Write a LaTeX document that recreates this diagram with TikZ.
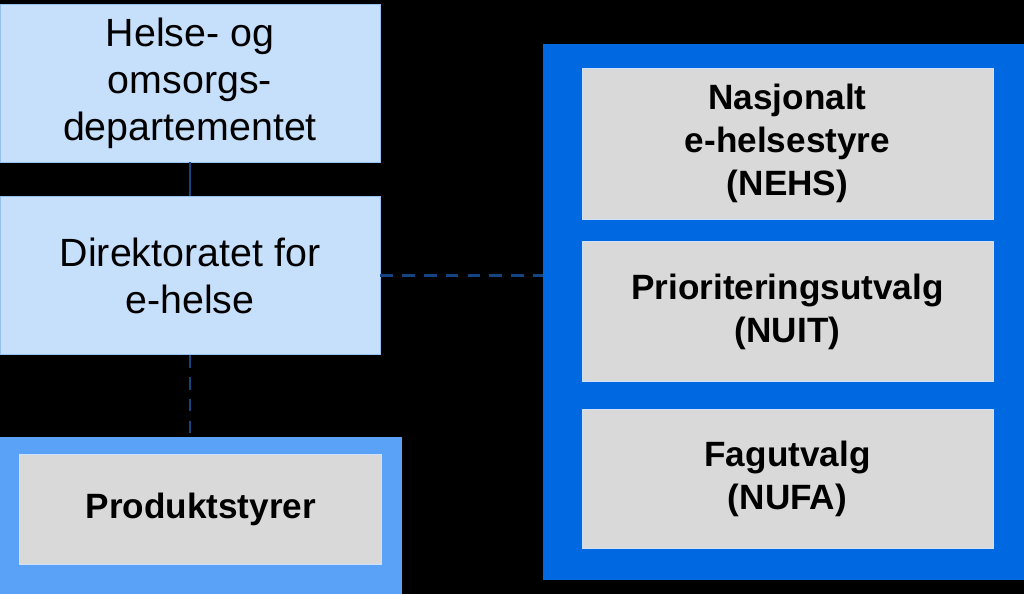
\documentclass[tikz,border=0pt]{standalone}
\usepackage{fontspec}
\setmainfont{Liberation Sans}
\usepackage{tikz}
\usetikzlibrary{positioning, backgrounds}
\definecolor{orgblue}{RGB}{198, 223, 251}
\definecolor{orgedge}{RGB}{150, 192, 240}
\definecolor{prodblue}{RGB}{90, 162, 247}
\definecolor{panelblue}{RGB}{0, 105, 226}
\definecolor{boardgray}{RGB}{217, 217, 217}
\definecolor{boardedge}{RGB}{205, 225, 250}
\definecolor{linkblue}{RGB}{20, 68, 130}
\tikzset{
  orgbox/.style={
    rectangle, draw=orgedge, fill=orgblue, line width=0.6pt,
    minimum width=9.5cm, minimum height=3.95cm,
    align=center, font=\fontsize{28}{33.5}\selectfont
  },
  board/.style={
    rectangle, draw=boardedge, fill=boardgray, line width=0.6pt,
    minimum width=10.275cm, align=center,
    font=\fontsize{25}{30.5}\selectfont\bfseries
  },
  prodframe/.style={rectangle, fill=prodblue, minimum width=10.05cm, minimum height=3.975cm},
  panel/.style    ={rectangle, fill=panelblue, minimum width=12.025cm, minimum height=13.4cm},
  link/.style     ={line width=2pt, color=linkblue},
  dashlink/.style ={link, dash pattern=on 9pt off 6.5pt},
}
\begin{document}
\begin{tikzpicture}

  % Background
  \fill[black] (0,0) rectangle (25.6,-14.85);
  \useasboundingbox (0,0) rectangle (25.6,-14.85);

  % Ministry and directorate
  \node[orgbox] (hod) at (4.75,-2.075) {Helse- og\\omsorgs-\\departementet};
  \node[orgbox, below=0.85cm of hod] (dir) {Direktoratet for\\e-helse};

  % Product boards
  \node[prodframe, anchor=north west] (prodframe) at ([yshift=-2.025cm]dir.south west) {};
  \node[board, minimum width=9.05cm, minimum height=2.75cm]
    (prod) at ([yshift=0.1625cm]prodframe.center) {Produktstyrer};

  % National boards
  \node[panel] (panel) at (19.5875,-7.8) {};
  \node[board, minimum height=3.775cm] (nehs) at (19.6875,-3.5875)
    {Nasjonalt\\e-helsestyre\\(NEHS)};
  \node[board, minimum height=3.5cm, below=0.55cm of nehs] (nuit)
    {Prioriteringsutvalg\\(NUIT)};
  \node[board, minimum height=3.475cm, below=0.675cm of nuit] (nufa)
    {Fagutvalg\\(NUFA)};

  % Links
  \draw[link] (hod) -- (dir);
  \draw[dashlink] (dir.south) -- (prodframe.north -| dir.south);
  \draw[dashlink] (dir.east) -- (dir.east -| panel.west);

\end{tikzpicture}
\end{document}
